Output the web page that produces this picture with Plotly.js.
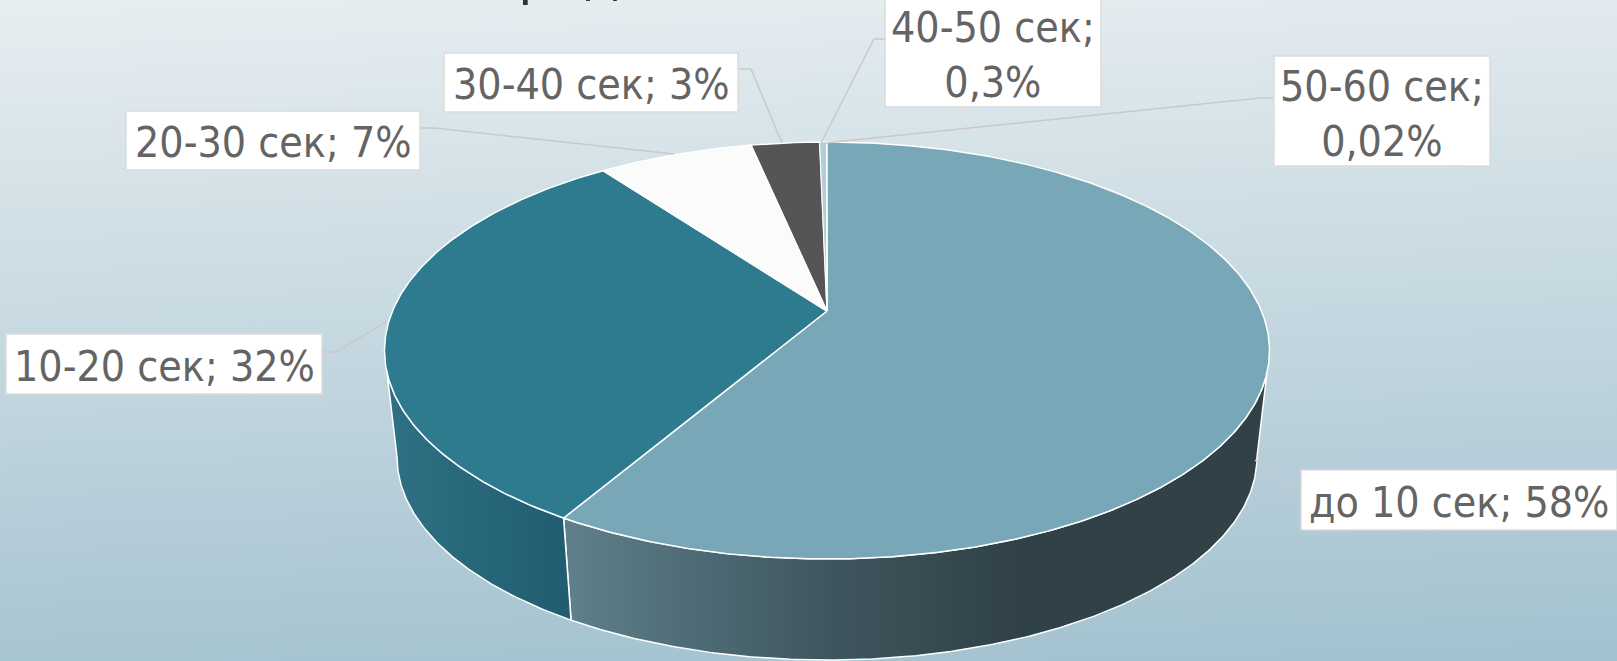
<!DOCTYPE html>
<html><head><meta charset="utf-8">
<script src="https://cdn.plot.ly/plotly-3.0.1.min.js"></script>
<style>html,body{margin:0;padding:0;width:1617px;height:661px;overflow:hidden}
#c{width:1617px;height:661px;background:linear-gradient(178deg,#e7eef1 0%,#a2c1cf 100%)}</style>
</head><body><div id="c"></div>
<script>
const categories = ['до 10 сек','10-20 сек','20-30 сек','30-40 сек','40-50 сек','50-60 сек'];
const shares = [58.45, 31.4, 6.8, 3.0, 0.3, 0.02];
const shownValues = ['58%','32%','7%','3%','0,3%','0,02%'];
const topColors = ['#78a8b7','#2e7a8f','#fbfbfb','#555555','#b5cdd6','#8fb6c4'];

// Perspective projection of the pie's top and bottom discs
const k = 0.1894;
const topDisc = {cx:827, cy:311, a:434.5, b:201};
const baseDisc = {cx:827, cy:418.6, a:422.2, b:195.7};
function proj(d, deg){
  const t = deg*Math.PI/180, u = Math.sin(t), v = -Math.cos(t), w = 1-k*v;
  return [d.cx + d.a*u/w, d.cy + d.b*v/w];
}
function arc(d, a0, a1){
  const n = Math.max(2, Math.ceil(Math.abs(a1-a0)*2)), p = [];
  for(let i=0;i<=n;i++) p.push(proj(d, a0+(a1-a0)*i/n));
  return p;
}
const total = shares.reduce((s,v)=>s+v,0);
let acc = 0;
const angles = shares.map(v=>{const a0=acc/total*360; acc+=v; return [a0, acc/total*360];});

const traces = [];
// visible side wall lies between the silhouette tangents of each disc
const topFrom = 106.9, topTo = 253.1, baseFrom = 100.9, baseTo = 259.1;
const sideStyles = [
  {scale:[[0,'#5f7f8a'],[0.3,'#4d6a74'],[0.6,'#3f555d'],[1,'#304248']], start:570, stop:1010},
  {scale:[[0,'#2f7184'],[1,'#205c6f']], start:385, stop:572}
];
[0,1].forEach(i=>{
  const t0 = Math.max(angles[i][0], topFrom), t1 = Math.min(angles[i][1], topTo);
  const b0 = Math.max(angles[i][0], baseFrom), b1 = Math.min(angles[i][1], baseTo);
  const pts = arc(topDisc,t0,t1).concat(arc(baseDisc,b1,b0));
  pts.push(pts[0]);
  traces.push({type:'scatter',mode:'lines',x:pts.map(p=>p[0]),y:pts.map(p=>p[1]),fill:'toself',
    fillgradient:{type:'horizontal',colorscale:sideStyles[i].scale,start:sideStyles[i].start,stop:sideStyles[i].stop},
    line:{color:'#ffffff',width:1.5},hoverinfo:'skip',showlegend:false});
});
// top slices
angles.forEach((r,i)=>{
  const pts = [[topDisc.cx,topDisc.cy]].concat(arc(topDisc,r[0],r[1]));
  pts.push(pts[0]);
  traces.push({type:'scatter',mode:'lines',name:categories[i],x:pts.map(p=>p[0]),y:pts.map(p=>p[1]),
    fill:'toself',fillcolor:topColors[i],line:{color:'#ffffff',width:i>=4?0.9:1.5},hoverinfo:'skip',showlegend:false});
});
// leader lines
const leaders = [
  [[1301,488],[1289,488],[1255,460]],
  [[322,352],[336,352],[386,322]],
  [[420,128],[435,128],[674,154]],
  [[738,69],[751,69],[782,143]],
  [[885,39],[874,39],[821,143]],
  [[1274,98],[1260,98],[825,143]]
];
leaders.forEach(l=>traces.push({type:'scatter',mode:'lines',x:l.map(p=>p[0]),y:l.map(p=>p[1]),
  line:{color:'#c9c9c9',width:1.5},hoverinfo:'skip',showlegend:false}));

const boxes = [
  {l:1301,t:470,r:1617,b:530,br:false},
  {l:6,t:334,r:322,b:394,br:false},
  {l:126,t:111,r:420,b:170,br:false},
  {l:444,t:53,r:738,b:112,br:false},
  {l:885,t:-3,r:1101,b:107,br:true},
  {l:1274,t:56,r:1490,b:166,br:true}
];
const FONT = '"DejaVu Sans Condensed","DejaVu Sans",sans-serif';
const shapes = boxes.map(b=>({type:'rect',xref:'x',yref:'y',x0:b.l,x1:b.r,y0:b.t,y1:b.b,layer:'above',
  fillcolor:'#ffffff',line:{color:'#dcdcdc',width:1.5}}));
const annotations = boxes.map((b,i)=>({
  xref:'x',yref:'y',x:(b.l+b.r)/2,y:(b.t+b.b)/2,xanchor:'center',yanchor:'middle',yshift:b.br?-3:-2,showarrow:false,
  text:categories[i]+';'+(b.br?'<br>':' ')+shownValues[i],align:'center',
  font:{family:FONT,size:42.5,color:'#646464'}
}));
annotations.push({xref:'x',yref:'y',x:390,y:9,xanchor:'left',yanchor:'bottom',showarrow:false,
  text:'Распределение',font:{family:FONT,size:58,color:'#333333'}});

Plotly.newPlot('c',traces,{
  width:1617,height:661,margin:{l:0,r:0,t:0,b:0},
  paper_bgcolor:'rgba(0,0,0,0)',plot_bgcolor:'rgba(0,0,0,0)',showlegend:false,
  xaxis:{range:[0,1617],visible:false,fixedrange:true},
  yaxis:{range:[661,0],visible:false,fixedrange:true},
  shapes:shapes,annotations:annotations
},{displayModeBar:false,staticPlot:true});
</script></body></html>
